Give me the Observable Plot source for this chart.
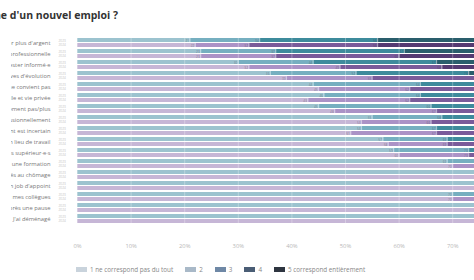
<!DOCTYPE html>
<html><head><meta charset="utf-8">
<script src="https://cdn.jsdelivr.net/npm/d3@7"></script>
<script src="https://cdn.jsdelivr.net/npm/@observablehq/plot@0.6"></script>
<style>
html,body{margin:0;padding:0;width:474px;height:280px;overflow:hidden;background:#fff;font-family:"Open Sans",sans-serif;}
#title{position:absolute;right:356px;top:8px;white-space:nowrap;font-weight:700;font-size:10.5px;color:#333;}
#chart{position:absolute;left:-103px;top:0;width:716px;}
#chart svg{max-width:none !important;width:716px;height:264px;}
#mask{position:absolute;left:0;top:28px;width:11px;height:206px;background:#fff;}
#legend{position:absolute;left:76px;top:265px;display:flex;align-items:center;font-size:6.3px;color:#888;white-space:nowrap;}
.sw{display:inline-block;width:11px;height:6px;margin-right:3px;}
.item{display:flex;align-items:center;margin-right:12px;}
</style></head><body>
<div id="title">Pourquoi êtes-vous à la recherche d'un nouvel emploi ?</div>
<div id="chart"></div>
<div id="mask"></div>
<div id="legend"></div>
<script>
const categories = [
  "Pour gagner plus d'argent",
  "Pour une reconversion professionnelle",
  "Pour rester informé·e",
  "Par manque de perspectives d'évolution",
  "Mon poste ne me convient pas",
  "Équilibre vie professionnelle et vie privée",
  "Mon travail ne me plaît simplement pas/plus",
  "Pour me développer professionnellement",
  "L'avenir de mon département est incertain",
  "Je n'aime pas mon lieu de travail",
  "Problèmes avec mes supérieur·e·s",
  "Après une formation",
  "Après plusieurs mois passés au chômage",
  "Pour trouver un job d'appoint",
  "Problèmes avec mes collègues",
  "Reprise après une pause",
  "J'ai déménagé"
];
const seriesNames = ["2023", "2024"];
const levels = ["1 ne correspond pas du tout", "2", "3", "4", "5 correspond entièrement"];
const tealColors = ["#9cc3cf", "#76afc0", "#3e8b9c", "#2a5e6c", "#1c3a46"];
const purpleColors = ["#c6b6d6", "#ab92c6", "#7a5b9a", "#553a72", "#38244e"];
const legendColors = ["#c9d3dc", "#a9b9c8", "#6f88a6", "#4a5d75", "#2e3540"];
// shares (%) per level 1..5, per category
const tealShares = [
  [21,13,22,24,20],[23,14,24,23,16],[30,14,23,21,12],[36,16,21,17,10],
  [44,20,20,10,6],[46,18,20,10,6],[45,21,19,10,5],[55,13,18,9,5],
  [53,14,19,9,5],[57,12,18,9,4],[59,14,16,7,4],[69,11,11,6,3],
  [76,10,8,4,2],[78,10,7,3,2],[70,12,10,5,3],[80,9,6,3,2],[82,8,6,3,1]
];
const purpleShares = [
  [22,10,24,24,20],[23,14,23,24,16],[32,17,19,21,11],[39,16,20,16,9],
  [45,17,20,11,7],[43,19,20,11,7],[48,19,19,9,5],[53,13,19,10,5],
  [51,16,18,10,5],[58,11,18,9,4],[60,13,16,7,4],[70,11,10,6,3],
  [77,10,7,4,2],[79,9,7,3,2],[70,12,10,5,3],[81,9,5,3,2],[83,8,5,3,1]
];
const xTicks = [0,10,20,30,40,50,60,70];

function build(shares, colors) {
  const out = [];
  categories.forEach((cat, i) => {
    let acc = 0;
    shares[i].forEach((v, k) => {
      out.push({cat, level: k, value: v, x1: acc, x2: acc + v, color: colors[k]});
      acc += v;
    });
  });
  return out;
}
const teal = build(tealShares, tealColors);
const purple = build(purpleShares, purpleColors);
const tealB = teal.filter(d => d.level > 0);
const purpleB = purple.filter(d => d.level > 0);

const chart = Plot.plot({
  width: 716, height: 264,
  marginLeft: 180, marginRight: 0, marginTop: 31, marginBottom: 34,
  style: {fontFamily: "Open Sans", background: "transparent", maxWidth: "none"},
  x: {domain: [0, 100], axis: null},
  y: {domain: categories, paddingInner: 0.15, paddingOuter: 0.075, axis: null},
  marks: [
    Plot.barX(teal, {x1: "x1", x2: "x2", y: "cat", fill: "color", insetBottom: 5}),
    Plot.barX(purple, {x1: "x1", x2: "x2", y: "cat", fill: "color", insetTop: 5}),
    Plot.ruleX(xTicks, {stroke: "white", strokeOpacity: 0.3}),
    Plot.tickX(tealB, {x: "x1", y: "cat", stroke: "white", strokeWidth: 0.6, strokeOpacity: 0.8, insetBottom: 5}),
    Plot.tickX(purpleB, {x: "x1", y: "cat", stroke: "white", strokeWidth: 0.6, strokeOpacity: 0.8, insetTop: 5}),
    Plot.text(tealB, {x: "x1", y: "cat", text: d => d.x1, dy: -2.5, dx: -1, textAnchor: "end", fontSize: 3.2, fill: "#223", fillOpacity: 0.45}),
    Plot.text(purpleB, {x: "x1", y: "cat", text: d => d.x1, dy: 2.5, dx: -1, textAnchor: "end", fontSize: 3.2, fill: "#223", fillOpacity: 0.45}),
    Plot.text(categories, {y: d => d, text: () => seriesNames[0], frameAnchor: "left", dx: -19, dy: -2.3, fontSize: 3.2, fill: "#c4c4c4"}),
    Plot.text(categories, {y: d => d, text: () => seriesNames[1], frameAnchor: "left", dx: -19, dy: 2.3, fontSize: 3.2, fill: "#c4c4c4"}),
    Plot.axisY({tickSize: 0, tickPadding: 27, fontSize: 5.8, color: "#777"}),
    Plot.axisX({ticks: xTicks, tickFormat: d => d + "%", tickSize: 0, tickPadding: 13, fontSize: 5.8, color: "#b8b8b8"})
  ]
});
document.getElementById("chart").appendChild(chart);

const legend = document.getElementById("legend");
levels.forEach((name, k) => {
  const item = document.createElement("div");
  item.className = "item";
  const sw = document.createElement("span");
  sw.className = "sw";
  sw.style.background = `repeating-linear-gradient(to bottom, ${legendColors[k]} 0px, ${legendColors[k]} 1px, #ffffff 1px, #ffffff 1.5px)`;
  item.appendChild(sw);
  item.appendChild(document.createTextNode(name));
  legend.appendChild(item);
});
</script></body></html>
